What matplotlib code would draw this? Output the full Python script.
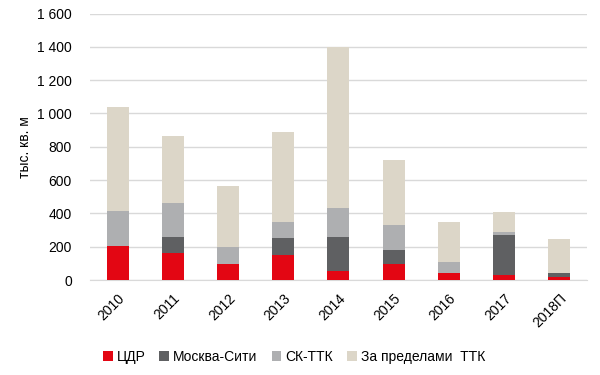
import numpy as np
import matplotlib.pyplot as plt
from matplotlib.ticker import FuncFormatter

plt.rcParams['font.family'] = ['Liberation Sans', 'DejaVu Sans']

years = ['2010', '2011', '2012', '2013', '2014', '2015', '2016', '2017', '2018П']
cdr = [202, 160, 96, 152, 54, 98, 40, 32, 16]
moscow_city = [0, 98, 0, 100, 204, 84, 0, 240, 24]
sk_ttk = [212, 206, 104, 98, 176, 146, 70, 16, 2]
outside_ttk = [624, 402, 364, 538, 966, 390, 236, 120, 204]

series = [
    ('ЦДР', cdr, '#e30613'),
    ('Москва-Сити', moscow_city, '#5f6062'),
    ('СК-ТТК', sk_ttk, '#aeafb1'),
    ('За пределами  ТТК', outside_ttk, '#dcd6c8'),
]

fig = plt.figure(figsize=(6, 3.75), dpi=100)
ax = fig.add_axes([0.15, 0.253, 0.828, 0.711])

x = np.arange(len(years))
bottom = np.zeros(len(years))
for name, vals, color in series:
    ax.bar(x, vals, width=0.4, bottom=bottom, color=color, label=name, zorder=3)
    bottom += np.array(vals)

ax.set_xlim(-0.5, len(years) - 0.5)
ax.set_ylim(0, 1600)
ax.set_yticks(np.arange(0, 1601, 200))
ax.yaxis.set_major_formatter(FuncFormatter(lambda v, p: f'{int(v):,}'.replace(',', ' ')))
ax.grid(axis='y', color='#d9d9d9', linewidth=1, zorder=0)
for s in ['top', 'right', 'left']:
    ax.spines[s].set_visible(False)
ax.spines['bottom'].set_color('#d9d9d9')
ax.tick_params(axis='both', length=0, labelsize=10, colors='#000000')
ax.tick_params(axis='y', pad=13)
ax.tick_params(axis='x', pad=8)
ax.set_xticks(x)
ax.set_xticklabels(years, rotation=45, ha='right', rotation_mode='anchor')
ax.set_ylabel('тыс. кв. м', fontsize=10)

fig.legend(loc='center', bbox_to_anchor=(0.49, 0.048), ncol=4, frameon=False,
           fontsize=10, handlelength=0.7, handleheight=0.7, columnspacing=1.0,
           handletextpad=0.3)

fig.savefig('out.png', dpi=100)
